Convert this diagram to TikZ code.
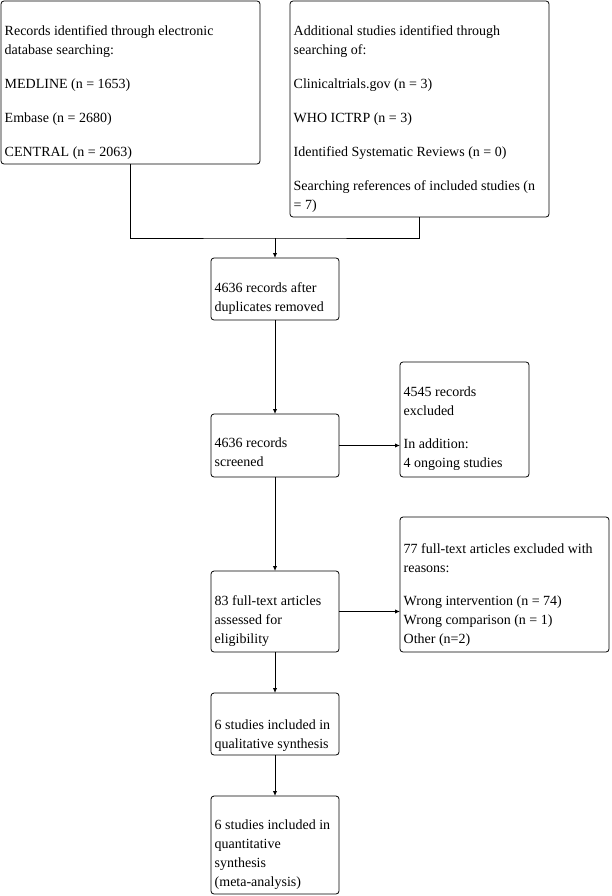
\documentclass[tikz,border=0pt]{standalone}
\usepackage{fontspec}
\setmainfont{Liberation Serif}
\usetikzlibrary{arrows.meta}
\begin{document}
\begin{tikzpicture}[x=1pt,y=1pt,
  box/.style={draw, line width=0.8pt, rounded corners=3pt, anchor=north west, inner sep=0pt, outer sep=0pt},
  txt/.style={anchor=north west, inner sep=0pt, align=left, font=\fontsize{14}{19}\selectfont, execute at begin node={\rule{0pt}{14pt}}},
  conn/.style={line width=1pt},
  arr/.style={line width=1pt, -{Latex[length=5pt,width=4.5pt]}}]
\useasboundingbox (0,0) rectangle (611,-896);
% boxes
\node[box, minimum width=259pt, minimum height=163pt] (a) at (1,-1) {};
\node[box, minimum width=259pt, minimum height=216pt] (b) at (290,-1) {};
\node[box, minimum width=128pt, minimum height=62pt] (c) at (211,-258) {};
\node[box, minimum width=128pt, minimum height=63pt] (d) at (211,-414) {};
\node[box, minimum width=129pt, minimum height=115pt] (e) at (400,-362) {};
\node[box, minimum width=128pt, minimum height=81pt] (f) at (211,-571) {};
\node[box, minimum width=209pt, minimum height=135pt] (g) at (400,-517) {};
\node[box, minimum width=128pt, minimum height=62pt] (h) at (211,-693) {};
\node[box, minimum width=128pt, minimum height=98pt] (i) at (211,-796) {};
% texts
\node[txt] (ta) at ([shift={(3.5,-24)}]a.north west) {Records identified through electronic\\database searching:\\[15pt]MEDLINE (n = 1653)\\[15pt]Embase (n = 2680)\\[15pt]CENTRAL (n = 2063)};
\node[txt] (tb) at ([shift={(3.5,-24)}]b.north west) {Additional studies identified through\\searching of:\\[15pt]Clinicaltrials.gov (n = 3)\\[15pt]WHO ICTRP (n = 3)\\[15pt]Identified Systematic Reviews (n = 0)\\[15pt]Searching references of included studies (n\\= 7)};
\node[txt] (tc) at ([shift={(3.5,-24)}]c.north west) {4636 records after\\duplicates removed};
\node[txt] (td) at ([shift={(3.5,-24)}]d.north west) {4636 records\\screened};
\node[txt] (te) at ([shift={(3.5,-25)}]e.north west) {4545 records\\excluded\\[14pt]In addition:\\4 ongoing studies};
\node[txt] (tf) at ([shift={(3.5,-24)}]f.north west) {83 full-text articles\\assessed for\\eligibility};
\node[txt] (tg) at ([shift={(3.5,-26)}]g.north west) {77 full-text articles excluded with\\reasons:\\[14pt]Wrong intervention (n = 74)\\Wrong comparison (n = 1)\\Other (n=2)};
\node[txt] (th) at ([shift={(3.5,-27)}]h.north west) {6 studies included in\\qualitative synthesis};
\node[txt] (ti) at ([shift={(3.5,-24)}]i.north west) {6 studies included in\\quantitative\\synthesis\\(meta-analysis)};
% connectors
\coordinate (j) at (275,-238);
\draw[conn] (a.south) |- (j) -| (b.south);
\draw[arr] (j) -- (c.north);
\draw[arr] (c.south) -- (d.north);
\draw[arr] (d.east) -- (d.east -| e.west);
\draw[arr] (d.south) -- (f.north);
\draw[arr] (f.east) -- (f.east -| g.west);
\draw[arr] (f.south) -- (h.north);
\draw[arr] (h.south) -- (i.north);
\end{tikzpicture}
\end{document}
